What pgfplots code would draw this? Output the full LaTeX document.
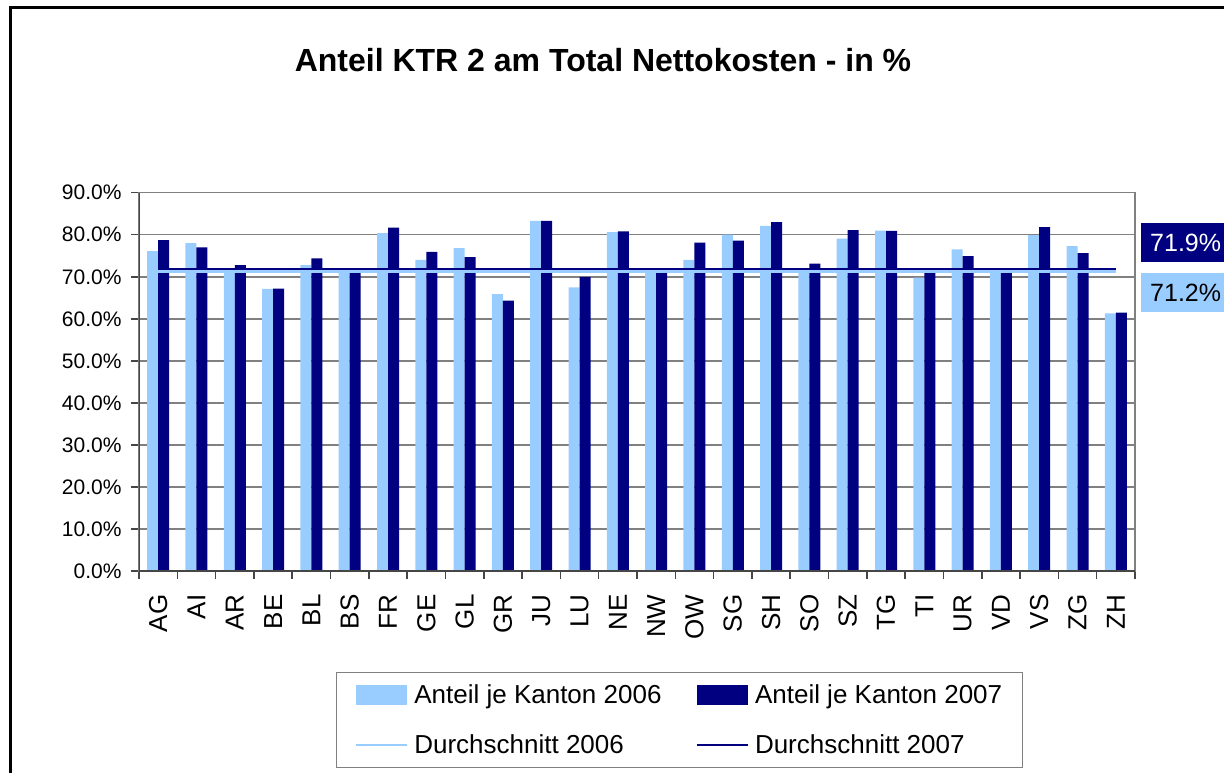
\documentclass[border=0pt]{standalone}
\usepackage{pgfplots}
\pgfplotsset{compat=1.18}
\usepackage{fontspec}
\setmainfont{Liberation Sans}
\definecolor{lightb}{RGB}{153,204,255}
\definecolor{navyb}{RGB}{0,0,128}
\definecolor{gridg}{RGB}{128,128,128}
\definecolor{axisg}{RGB}{70,70,70}
\begin{document}
\begin{tikzpicture}
\useasboundingbox (-139pt,-201pt) rectangle (1085pt,571pt);
\draw[line width=3pt] (-128pt,-210pt) -- (-128pt,563pt) -- (1100pt,563pt);
\begin{axis}[
  at={(0pt,0pt)}, anchor=south west,
  scale only axis, width=996pt, height=378.3pt,
  xmin=-0.5, xmax=25.5, ymin=0, ymax=90,
  ytick={0,10,...,90},
  yticklabel={\pgfmathprintnumber[fixed,fixed zerofill,precision=1,assume math mode=true]{\tick}\%},
  yticklabel style={font=\fontsize{21}{24}\selectfont, xshift=-6pt},
  xtick={0,...,25},
  xticklabels={AG,AI,AR,BE,BL,BS,FR,GE,GL,GR,JU,LU,NE,NW,OW,SG,SH,SO,SZ,TG,TI,UR,VD,VS,ZG,ZH},
  xticklabel style={rotate=90, anchor=east, font=\fontsize{26}{26}\selectfont},
  xticklabel shift=12pt,
  minor xtick={-0.5,0.5,...,25.5},
  major x tick style={draw=none},
  tick align=outside, xtick pos=bottom, ytick pos=left,
  major tick length=8pt, minor tick length=8pt,
  tick style={draw=axisg, line width=1.5pt},
  ymajorgrids, grid style={draw=gridg, line width=1.5pt},
  axis line style={draw=gridg, line width=1.5pt},
  legend columns=2,
  legend cell align=left,
  legend style={at={(0.5427,-0.267)}, anchor=north, draw=gridg, line width=1.2pt,
    font=\fontsize{26}{28}\selectfont, row sep=26pt, inner xsep=18pt, inner ysep=10pt,
    nodes={inner sep=2pt},
    /tikz/every odd column/.append style={column sep=4pt},
    /tikz/every even column/.append style={column sep=32pt}},
]
\addplot[ybar, bar width=11pt, bar shift=-5.5pt, fill=lightb, draw=none,
  legend image code/.code={\fill[lightb] (0pt,-10pt) rectangle (51pt,10pt);}]
coordinates {(0,76.1) (1,78.0) (2,71.5) (3,67.1) (4,72.8) (5,71.8) (6,80.4) (7,74.0) (8,76.8) (9,65.9)
 (10,83.3) (11,67.5) (12,80.6) (13,71.5) (14,74.0) (15,80.0) (16,82.1) (17,71.8) (18,79.1) (19,81.0)
 (20,69.8) (21,76.5) (22,71.8) (23,79.9) (24,77.3) (25,61.3)};
\addlegendentry{Anteil je Kanton 2006}
\addplot[ybar, bar width=11pt, bar shift=5.5pt, fill=navyb, draw=none,
  legend image code/.code={\fill[navyb] (0pt,-10pt) rectangle (51pt,10pt);}]
coordinates {(0,78.7) (1,77.0) (2,72.8) (3,67.2) (4,74.4) (5,71.3) (6,81.7) (7,75.9) (8,74.7) (9,64.3)
 (10,83.3) (11,70.0) (12,80.8) (13,71.4) (14,78.1) (15,78.6) (16,83.0) (17,73.1) (18,81.1) (19,80.9)
 (20,71.0) (21,74.9) (22,71.3) (23,81.8) (24,75.6) (25,61.5)};
\addlegendentry{Anteil je Kanton 2007}
\addplot[lightb, line width=2.5pt,
  legend image code/.code={\draw[lightb, line width=2.5pt] (0pt,0pt) -- (51pt,0pt);}]
coordinates {(0,71.2) (25,71.2)};
\addlegendentry{Durchschnitt 2006}
\addplot[navyb, line width=2.5pt,
  legend image code/.code={\draw[navyb, line width=2.5pt] (0pt,0pt) -- (51pt,0pt);}]
coordinates {(0,71.9) (25,71.9)};
\addlegendentry{Durchschnitt 2007}
\draw[axisg, line width=1.5pt] (rel axis cs:0,1) -- (rel axis cs:0,0) -- (rel axis cs:1,0);
\end{axis}
\node[anchor=base, font=\bfseries\fontsize{32}{38}\selectfont] at (464pt,499pt) {Anteil KTR 2 am Total Nettokosten - in \%};
\node[anchor=west, fill=navyb, text=white, minimum height=38.4pt, inner xsep=9pt, font=\fontsize{25}{25}\selectfont] at (1002pt,328.5pt) {71.9\%};
\node[anchor=west, fill=lightb, text=black, minimum height=38.4pt, inner xsep=9pt, font=\fontsize{25}{25}\selectfont] at (1002pt,278.5pt) {71.2\%};
\end{tikzpicture}
\end{document}
